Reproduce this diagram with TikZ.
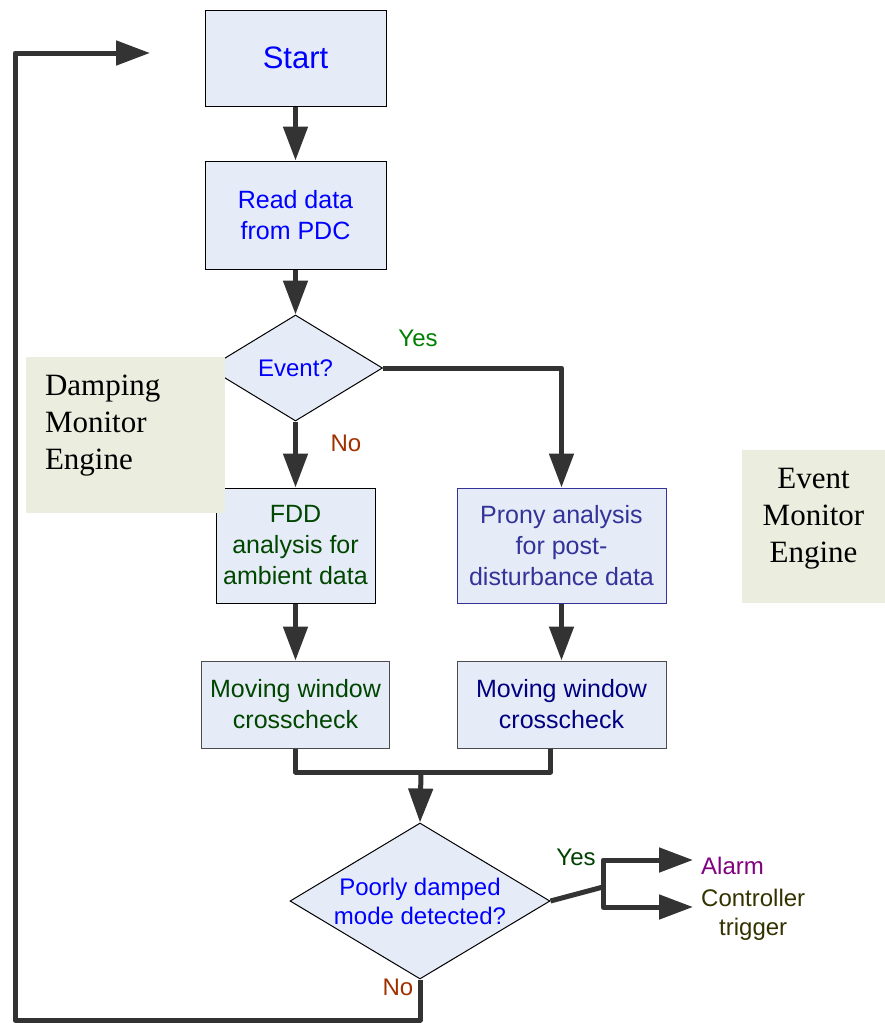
\documentclass[tikz,border=0pt]{standalone}
\usepackage{fontspec}
\setmainfont{Liberation Sans}
\newfontfamily\enginefont{Liberation Serif}
\usetikzlibrary{shapes.geometric, arrows.meta, positioning}
\definecolor{boxblue}{RGB}{230,236,247}
\definecolor{enginegreen}{RGB}{235,238,223}
\definecolor{flowgray}{RGB}{51,51,51}
\definecolor{fddgreen}{RGB}{0,70,0}
\definecolor{pronyblue}{RGB}{51,51,153}
\definecolor{mwnavy}{RGB}{0,0,128}
\definecolor{yesgreen}{RGB}{0,128,0}
\definecolor{yesdark}{RGB}{0,64,0}
\definecolor{nobrown}{RGB}{160,48,0}
\definecolor{alarmpurple}{RGB}{128,0,128}
\definecolor{triggerolive}{RGB}{51,51,0}
\tikzset{
>={Triangle[length=34pt,width=24pt]}, % big solid heads as in the sketch
block/.style={rectangle, draw=black, line width=1pt, fill=boxblue, align=center, inner sep=4pt, font=\fontsize{25}{31}\selectfont}, % process boxes
decision/.style={diamond, draw=black, line width=1pt, fill=boxblue, align=center, inner sep=0pt, text=blue, font=\fontsize{24}{29}\selectfont}, % questions
flow/.style={line width=5pt, draw=flowgray, line join=round}, % thick connectors
tag/.style={inner xsep=8pt, inner ysep=1pt, font=\fontsize{24}{29}\selectfont}, % yes/no and outputs
engine/.style={rectangle, fill=enginegreen, text=black, font=\enginefont\fontsize{31}{37}\selectfont}, % engine captions
}
\begin{document}
\begin{tikzpicture}[x=1pt, y=-1pt]
        \useasboundingbox (0,0) rectangle (885,1023);

        % main column
        \node[block, text=blue, minimum width=181pt, minimum height=96pt, font=\fontsize{31}{37}\selectfont] (start) at (295.5,58) {Start};
        \node[block, text=blue, minimum width=181pt, minimum height=108pt, below=54pt of start] (read) {Read data\\from PDC};
        \node[decision, minimum width=174pt, minimum height=106pt, below=45pt of read] (event) {Event?};
        \node[block, text=fddgreen, minimum width=159pt, minimum height=115pt, below=66pt of event] (fdd) {FDD\\analysis for\\ambient data};
        \node[block, text=pronyblue, draw=pronyblue, minimum width=209pt, minimum height=115pt, right=81pt of fdd] (prony) {Prony analysis\\for post-\\disturbance data};
        \node[block, text=fddgreen, draw=black!70, minimum width=188pt, minimum height=87pt, below=57pt of fdd] (mwl) {Moving window\\crosscheck};
        \node[block, text=mwnavy, draw=black!70, minimum width=209pt, minimum height=87pt, below=57pt of prony] (mwr) {Moving window\\crosscheck};
        \node[decision, aspect=1.67, minimum width=260pt, minimum height=156pt] (poorly) at (420,901) {Poorly damped\\mode detected?};

        % outputs and branch labels
        \node[tag, text=alarmpurple, anchor=west] (alarm) at (693,866) {Alarm};
        \node[tag, text=triggerolive, align=center, anchor=west] (trigger) at (693,915) {Controller\\trigger};
        \node[tag, text=yesgreen] (yes1) at (418,338) {Yes};
        \node[tag, text=nobrown] (no1) at (346,443) {No};
        \node[tag, text=yesdark] (yes2) at (576,857) {Yes};
        \node[tag, text=nobrown] (no2) at (398,987) {No};

        \coordinate (join) at (421,772);
        \coordinate (fork) at (603,887);
        \coordinate (loopcorner) at (15,1020);
        \coordinate (loopend) at (150,53);

        \draw[flow, ->] (start) -- (read);
        \draw[flow, ->] (read) -- (event);
        \draw[flow, ->] (event.south) -- (fdd.north);
        \draw[flow, ->] (event.east) -| (prony.north);
        \draw[flow, ->] (fdd) -- (mwl);
        \draw[flow, ->] (prony) -- (mwr);
        \draw[flow] (mwl.south) |- (join) -| ([xshift=-11pt]mwr.south);
        \draw[flow, ->] (join) -- (poorly.north);
        \draw[flow] (poorly.east) -- (fork);
        \draw[flow, ->] (fork) |- ([yshift=6pt]alarm.west);
        \draw[flow, ->] (fork) |- ([yshift=8pt]trigger.west);
        \draw[flow, ->] (poorly.south) |- (loopcorner) |- (loopend);

        % engine captions lie over the chart
        \node[engine, minimum width=199pt, minimum height=156pt, text width=161pt, align=left, text depth=100.5pt] (damping) at (125.5,435) {Damping\\Monitor\\Engine};
        \node[engine, minimum width=143pt, minimum height=153pt, align=center, text depth=22pt] (eventengine) at (813.5,526.5) {Event\\Monitor\\Engine};
      \end{tikzpicture}
\end{document}
